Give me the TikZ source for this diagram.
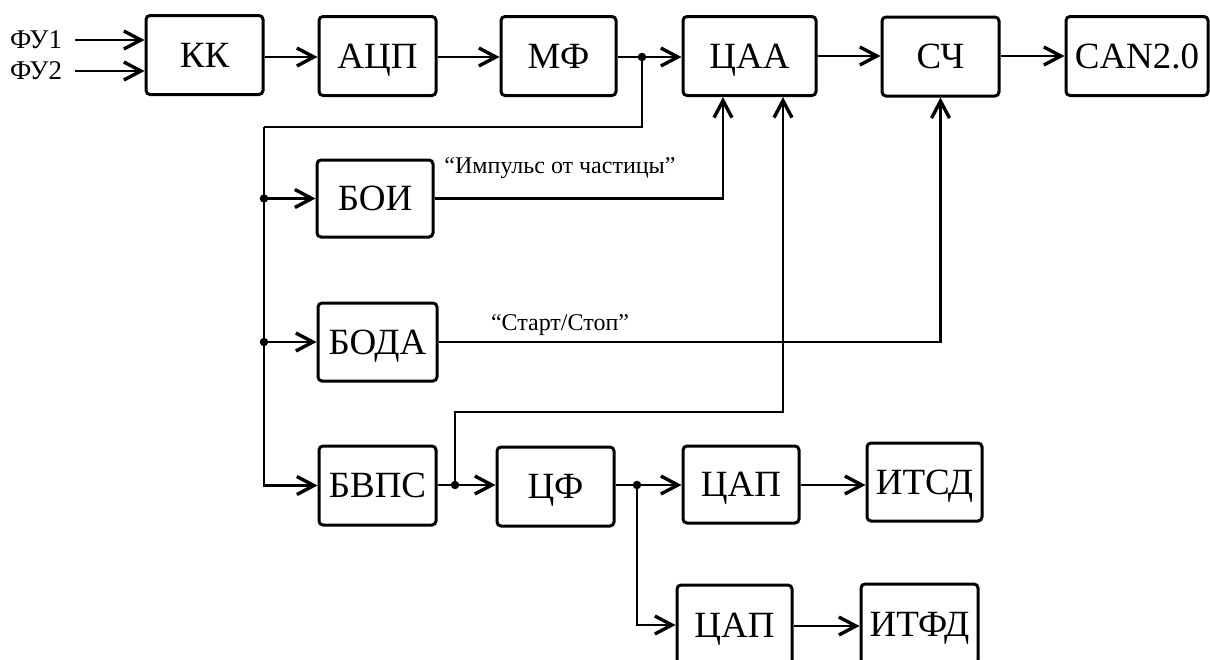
\documentclass[tikz,border=0pt]{standalone}
\usepackage{fontspec}
\setmainfont{Liberation Serif}
\usetikzlibrary{arrows.meta}
\begin{document}
\begin{tikzpicture}[x=1pt,y=-1pt,
  box/.style={draw, line width=3pt, rounded corners=4pt, inner sep=0pt,
    font=\fontsize{37}{37}\selectfont, text height=24.5pt, text depth=0pt,
    minimum width=117pt, minimum height=79pt},
  conn/.style={line width=2.6pt},
  arr/.style={conn, -{Straight Barb[length=17pt,width=18pt,line width=0.8pt 1]}},
  dot/.style={circle, fill, inner sep=0pt, minimum size=8.5pt},
  lbl/.style={font=\fontsize{24}{24}\selectfont, inner sep=0pt},
  inlbl/.style={font=\fontsize{27}{27}\selectfont, inner sep=0pt, anchor=west},
]
\useasboundingbox (0,0) rectangle (1210,659);

% top row
\node[box] (kk)   at (204.5,55) {КК};
\node[box] (adc)  at (377.5,56) {АЦП};
\node[box, minimum width=115pt] (mf) at (558.5,56) {МФ};
\node[box, minimum width=133pt] (caa) at (749.5,56) {ЦАА};
\node[box] (sch)  at (940.5,56.5) {СЧ};
\node[box, minimum width=142pt] (can) at (1137,56) {CAN2.0};

% left column
\node[box, minimum width=116pt, minimum height=77pt] (boi) at (375,198.5) {БОИ};
\node[box, minimum width=119pt, minimum height=78pt] (boda) at (377.5,342) {БОДА};
\node[box] (bvps) at (377.5,485.5) {БВПС};
\node[box] (cf)   at (555.5,486.5) {ЦФ};
\node[box, minimum width=116pt, minimum height=77pt] (cap1) at (741,484.5) {ЦАП};
\node[box, minimum width=115pt, minimum height=78pt] (itsd) at (924.5,482) {ИТСД};
\node[box, minimum width=115pt, minimum height=80pt] (cap2) at (734.5,625) {ЦАП};
\node[box, minimum height=80pt] (itfd) at (919.5,624) {ИТФД};

% inputs
\node[inlbl] (fu1) at (10,40) {ФУ1};
\node[inlbl] (fu2) at (10,71) {ФУ2};
\draw[arr] ([xshift=13pt]fu1.east) -- (kk.west |- fu1.east);
\draw[arr] ([xshift=13pt]fu2.east) -- (kk.west |- fu2.east);

% top chain
\coordinate (ty) at (0,57);
\draw[arr] (kk.east |- ty) -- (adc.west |- ty);
\draw[arr] (adc.east |- ty) -- (mf.west |- ty);
\draw[arr] (mf.east |- ty) -- (caa.west |- ty);
\draw[arr] (caa.east |- 0,56) -- (sch.west |- 0,56);
\draw[arr] (sch.east |- 0,56) -- (can.west |- 0,56);

% bus
\coordinate (j1) at (642,57);
\coordinate (b0) at (264,127);
\node[dot] at (j1) {};
\draw[conn] (j1) |- (b0);
\draw[arr] (b0) |- (bvps.west);
\draw[arr] (b0 |- boi.west) -- (boi.west);
\node[dot] at (b0 |- boi.west) {};
\draw[arr] (b0 |- boda.west) -- (boda.west);
\node[dot] at (b0 |- boda.west) {};

% BOI -> CAA
\draw[arr] (boi.east) -| ([xshift=-26.5pt]caa.south);
\node[lbl] (l1) at (560,168) {“Импульс от частицы”};

% BODA -> SCH
\draw[arr] (boda.east) -| (sch.south);
\node[lbl] (l2) at (560,325) {“Старт/Стоп”};

% BVPS chain
\coordinate (j2) at (455,485);
\coordinate (r2) at (455,412);
\draw[arr] (bvps.east |- j2) -- (cf.west |- j2);
\node[dot] at (j2) {};
\draw[arr] (j2) -- (r2) -| ([xshift=33.5pt]caa.south);

\coordinate (j3) at (637,485);
\draw[arr] (cf.east |- j3) -- (cap1.west |- j3);
\node[dot] at (j3) {};
\draw[arr] (j3) |- (cap2.west);
\draw[arr] (cap1.east |- j3) -- (itsd.west |- j3);
\draw[arr] (cap2.east |- 0,626) -- (itfd.west |- 0,626);
\end{tikzpicture}
\end{document}
